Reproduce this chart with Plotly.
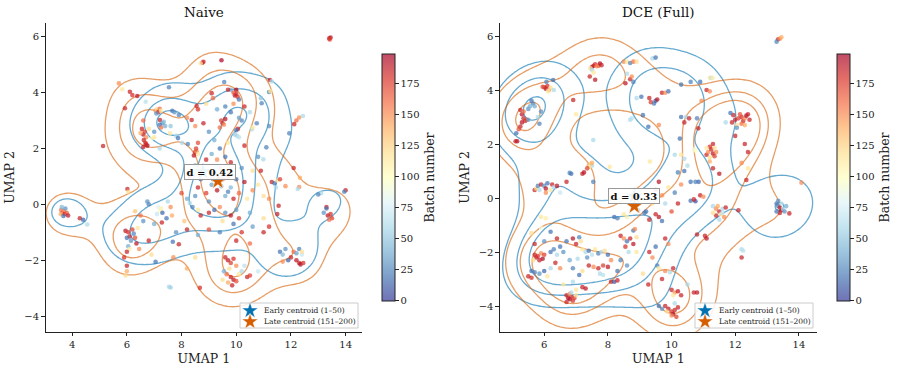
import numpy as np
import plotly.graph_objects as go

FONT = "DejaVu Serif"
W, H = 897, 370

# ---------------- DATA: Naive panel ----------------
naive_x = [
    3.6, 3.65, 3.7, 3.72, 3.58, 3.75, 3.68, 3.8, 3.62, 3.85, 4.28, 4.4, 4.55,
    5.95, 6.05, 6.1, 6.2, 6.0, 6.15, 6.3, 6.25, 6.4, 6.35, 6.05, 6.1, 6.0, 6.45, 6.0, 6.0, 5.95, 5.9, 6.5, 6.3, 6.02, 6.05,
    7.15, 7.2, 7.25, 7.1, 7.3, 7.28, 6.75, 6.8, 7.5, 7.6, 7.65, 7.45, 7.68, 7.9, 7.54, 7.6, 8.67, 7.05, 6.9, 7.7, 8.2, 8.5,
    8.3, 8.4, 8.2, 8.5, 8.6, 8.7, 8.8, 8.9, 9.0, 9.1,
    9.2, 9.3, 9.4, 9.5, 9.6, 9.7, 9.8, 9.9, 10.0, 10.1,
    9.0, 9.2, 9.4, 9.6, 9.8, 10.0, 10.1, 9.9, 9.5, 8.7,
    8.6, 8.9, 9.1, 9.3, 9.6, 9.8, 10.2, 10.3, 10.4, 8.5,
    8.3, 10.5, 10.6, 8.0, 8.1, 9.35, 9.15, 9.45, 9.25, 9.7,
    7.8, 8.2, 8.6, 9.0, 9.4, 10.2, 10.6, 10.0, 10.5, 11.0, 6.6, 7.0, 6.8,
    9.6, 9.7, 9.8, 9.9, 10.0, 9.75, 9.65, 9.8, 9.9, 10.0, 9.7, 9.85, 10.1, 10.2, 10.4, 10.5, 9.5, 9.55, 10.3, 10.8,
    11.6, 11.7, 11.8, 12.0, 12.1, 12.2, 12.3, 12.35, 12.4, 12.3, 12.2, 11.9, 12.45, 11.7, 12.4,
    13.3, 13.35, 13.45, 13.5, 13.4, 13.2, 13.1, 13.0, 14.0, 13.95, 13.3,
    11.3, 11.4, 11.5, 11.45, 11.6, 11.55, 11.5, 11.2, 11.0, 11.8, 12.3, 12.25, 12.1, 12.33, 11.0, 11.2, 10.8, 10.9, 10.8, 10.6,
    10.0, 9.95, 10.05, 9.9, 10.0, 10.1, 9.8, 9.7, 9.9, 9.1,
    9.15, 8.9, 9.5, 9.45, 9.55, 9.6, 9.4, 10.2, 10.1, 10.06,
    10.0, 10.03, 10.1, 9.95, 10.57, 10.6, 10.75, 11.2, 9.2, 9.0,
    8.8, 8.5, 8.6, 8.37, 8.2, 9.3, 9.6, 9.8, 10.3, 10.5,
    10.3, 9.7, 9.4, 8.55, 8.6,
    5.71, 5.83, 6.11, 6.2, 6.38, 5.93, 5.13, 7.54, 6.69, 7.05,
    7.1, 7.15, 7.2, 7.08, 7.25, 7.21, 7.66, 7.74, 7.9, 6.55,
    6.6, 6.65, 6.7, 6.62, 6.68, 6.75, 6.6, 6.7, 6.5, 6.8,
    6.92, 7.0, 7.2, 7.58, 7.8, 7.87, 8.02, 8.23, 8.5, 8.55,
    8.6, 8.45, 8.53, 7.3, 7.4, 7.2, 7.35, 7.25, 6.6, 7.0,
    7.6,
    8.76, 8.8, 8.7, 9.46, 9.56, 11.23, 11.3, 11.2, 11.25, 10.93, 10.9, 12.3, 12.2, 12.12, 11.94, 12.44, 11.1, 10.99, 13.4, 13.45, 13.42,
]
naive_y = [
    -0.2, -0.3, -0.25, -0.35, -0.35, -0.15, -0.42, -0.3, -0.1, -0.4, -0.5, -0.55, -0.72,
    -0.95, -1.0, -1.15, -0.9, -1.2, -1.3, -1.2, -1.05, -0.85, -1.4, -1.5, -1.6, -1.7, -1.6, -2.2, -2.4, -2.55, -1.9, -0.4, -0.25, 0.55, 0.45,
    -0.1, -0.25, -0.15, -0.35, -0.3, -0.65, 0.1, 0.0, 0.1, -0.1, -0.4, -0.5, -1.34, -1.43, -2.95, -2.98, -2.99, -2.06, -1.8, -1.9, -2.3, -1.9,
    0.05, -0.1, 0.2, 0.3, 0.6, 0.9, 1.2, 0.4, 0.1, 0.7,
    1.1, 0.5, 1.3, 0.9, 0.3, 1.0, 0.6, 0.2, 0.9, 0.4,
    -0.3, -0.2, -0.1, -0.3, -0.4, -0.2, -0.5, -0.7, -0.6, -0.4,
    -0.2, 1.6, 1.8, 1.6, 1.7, 1.5, 1.3, 0.8, 0.2, 1.4,
    1.0, -0.3, 0.5, 0.4, -0.6, 0.85, 0.9, 0.65, 1.35, 0.45,
    -1.0, -0.9, -1.1, -0.9, -1.0, -1.0, -0.8, -1.3, -1.4, -0.5, -0.6, -0.7, -1.3,
    -1.9, -2.0, -2.1, -1.95, -2.2, -2.3, -2.5, -2.6, -2.7, -2.75, -2.8, -2.9, -2.5, -2.4, -2.6, -2.55, -2.7, -2.4, -2.2, -2.4,
    -1.7, -1.8, -1.6, -1.9, -1.7, -2.0, -2.1, -2.15, -1.8, -1.6, -1.75, -2.0, -2.1, -2.05, -1.7,
    -0.1, -0.4, -0.35, -0.5, -0.55, -0.3, 0.4, 0.35, 0.5, 0.45, -0.15,
    0.8, 0.75, 0.85, 0.6, 0.9, -0.05, -0.35, -0.8, -1.0, 0.65, 0.62, 0.55, 1.3, 0.95, 0.3, 0.2, 0.7, 1.2, 1.7, 1.2,
    3.95, 3.9, 3.85, 4.0, 4.1, 3.75, 4.1, 4.1, 3.6, 3.98,
    3.8, 3.6, 2.9, 3.0, 2.85, 3.05, 2.75, 3.0, 3.1, 2.7,
    2.65, 2.45, 2.4, 2.5, 2.69, 2.75, 2.9, 2.8, 2.3, 2.6,
    2.9, 2.8, 2.2, 3.02, 3.1, 3.4, 3.5, 3.3, 3.5, 3.3,
    2.1, 2.2, 2.0, 3.52, 3.4,
    4.33, 4.12, 4.03, 3.91, 3.88, 3.44, 2.09, 4.19, 3.67, 3.35,
    3.4, 3.3, 3.42, 3.25, 3.35, 3.02, 3.35, 3.3, 3.2, 2.7,
    2.5, 2.6, 2.4, 2.3, 2.2, 2.1, 2.05, 2.15, 2.55, 2.7,
    2.37, 2.4, 2.0, 2.54, 2.45, 2.37, 2.2, 2.16, 1.87, 1.9,
    1.8, 1.75, 2.0, 2.9, 2.8, 2.85, 2.95, 2.75, 3.0, 2.6,
    2.8,
    5.07, 5.1, 5.05, 5.16, 4.38, 4.45, 4.4, 4.02, 4.05, 3.62, 3.8, 3.11, 3.0, 2.87, 2.54, 3.16, 2.04, 1.61, 5.94, 5.97, 5.9,
]
naive_batch = [
    160, 175, 150, 185, 140, 30, 20, 165, 45, 190, 185, 15, 60,
    190, 180, 185, 175, 20, 30, 170, 25, 115, 190, 40, 110, 185, 150, 185, 140, 120, 180, 160, 130, 185, 120,
    80, 95, 110, 70, 15, 185, 30, 25, 60, 150, 140, 20, 20, 185, 60, 55, 180, 20, 120, 150, 140, 120,
    60, 25, 40, 30, 185, 20, 65, 175, 30, 35,
    15, 190, 25, 180, 40, 170, 45, 185, 20, 160,
    185, 20, 150, 30, 190, 35, 175, 20, 120, 185,
    115, 185, 40, 150, 20, 185, 30, 190, 115, 50,
    185, 40, 150, 170, 130, 165, 20, 45, 60, 25,
    30, 185, 40, 170, 25, 180, 35, 185, 160, 120, 30, 40, 185,
    185, 190, 175, 180, 150, 120, 160, 185, 190, 170, 140, 185, 115, 60, 185, 175, 120, 40, 65, 70,
    20, 45, 30, 185, 160, 190, 185, 195, 70, 25, 35, 15, 180, 150, 120,
    185, 190, 180, 175, 160, 30, 60, 25, 185, 25, 20,
    185, 20, 115, 60, 175, 185, 185, 180, 185, 150, 150, 60, 185, 140, 120, 150, 115, 185, 30, 120,
    185, 190, 180, 170, 195, 20, 40, 185, 150, 185,
    160, 120, 185, 175, 150, 190, 160, 25, 35, 185,
    20, 60, 65, 55, 60, 115, 25, 30, 40, 30,
    185, 150, 170, 185, 150, 40, 25, 20, 185, 60,
    185, 115, 20, 185, 180,
    150, 115, 185, 180, 190, 185, 185, 25, 65, 150,
    120, 185, 160, 30, 110, 185, 20, 30, 25, 185,
    190, 175, 150, 185, 180, 195, 190, 185, 140, 120,
    100, 115, 60, 115, 60, 20, 60, 25, 185, 150,
    115, 190, 175, 30, 40, 20, 45, 160, 160, 30,
    50,
    190, 185, 115, 195, 25, 185, 60, 25, 115, 25, 50, 150, 160, 185, 25, 60, 25, 60, 185, 190, 175,
]

# ---------------- DATA: DCE (Full) panel ----------------
dce_x = [
    7.5, 7.55, 7.6, 7.7, 7.75, 7.8, 7.65, 7.45, 7.5, 7.43, 7.6, 7.55,
    6.0, 6.05, 6.1, 6.15, 6.2, 5.95, 6.07, 6.28, 6.3, 6.12,
    5.6, 5.65, 5.5, 5.55, 5.25, 5.3, 5.35, 5.4, 5.45, 5.3, 5.35, 5.25, 5.2, 5.12, 5.1, 5.15, 5.8, 5.85, 5.7, 5.9, 5.5,
    6.91, 7.0, 7.54, 7.4, 7.45, 7.5, 7.42, 7.5, 7.35, 7.2, 7.25, 6.8, 6.85, 6.7, 7.54, 8.06,
    5.7, 5.75, 5.8, 5.85, 5.9, 6.0, 6.05, 6.1, 6.2, 6.25, 6.3, 6.4, 6.05, 6.5,
    8.5, 8.6, 8.7, 8.8, 8.9, 9.4, 9.5, 8.7, 8.75, 8.8, 8.6, 8.55,
    8.9, 9.05, 9.3, 9.35, 9.45, 9.5, 9.55, 9.7, 9.8, 9.9, 9.1, 8.7, 8.75, 9.27, 9.6,
    10.3, 10.6, 10.9, 11.2, 11.25, 11.3, 11.1, 11.2, 10.94, 10.3, 10.45, 10.55, 10.8, 10.84, 10.4, 10.26,
    10.1, 10.3, 10.4, 9.32, 10.7, 10.75, 11.1, 11.15, 11.2, 11.25, 11.3, 11.35, 11.4, 11.2, 11.3, 11.35, 11.1, 11.2, 11.3, 11.5,
    11.9, 12.0, 12.1, 12.2, 12.25, 12.3, 12.35, 12.4, 12.2, 12.15, 11.94, 12.05, 12.3, 12.45, 12.0, 12.3, 12.4, 12.2, 12.4, 12.35, 11.85, 11.7, 12.05,
    10.4, 10.5, 10.2, 10.6, 10.75, 10.85, 10.9, 11.0, 14.08,
    13.3, 13.35, 13.4, 13.45, 13.5, 13.55, 13.4, 13.3, 13.6, 13.45, 13.7, 13.35,
    10.6, 10.75, 10.7, 11.3, 11.4, 11.5, 11.55, 11.6, 11.65, 11.4, 11.5, 11.6, 11.7, 11.3, 11.45,
    12.1, 11.05, 11.1, 10.8, 12.2, 12.25, 12.2, 9.8, 9.9, 9.5, 9.6, 9.2, 9.7, 9.3,
    9.5, 9.7, 9.9, 10.1, 10.2, 9.8, 9.4, 10.0, 9.6, 10.3,
    5.7, 5.75, 5.8, 5.85, 5.9, 5.95, 6.0, 5.65, 5.6, 5.7, 5.85, 6.0, 5.5, 5.6, 6.2, 6.3, 6.4, 6.5, 6.6, 6.35, 6.5, 6.2, 6.1,
    6.7, 6.75, 6.8, 6.85, 6.9, 6.95, 6.8, 7.0, 6.7, 6.85, 7.0, 7.2, 7.3, 6.6, 6.9,
    7.2, 7.3, 7.4, 7.5, 7.6, 7.7, 7.8, 7.9, 8.0, 7.35, 7.05,
    7.4, 7.55, 7.7, 7.85, 8.0, 7.75, 7.85, 8.1, 8.2, 8.3, 7.2, 7.1, 6.9, 6.8, 7.0, 6.7, 6.9,
    8.4, 8.5, 8.6, 8.7, 8.8, 8.9, 8.55, 8.65, 8.9, 8.8, 8.85, 8.2, 8.3, 8.5, 8.6, 8.95, 9.15, 8.4, 8.6, 8.3, 8.1,
    5.9, 6.05, 5.9, 6.2, 7.1, 7.15, 6.4, 6.0, 5.7, 5.6,
    9.3, 9.5, 9.4, 9.55, 9.6, 9.8, 9.95, 10.05, 9.7, 9.27, 9.1,
    10.0, 10.1, 10.2, 10.3, 10.05, 10.7, 10.8, 10.5,
    9.8, 9.9, 10.0, 10.05, 10.1, 10.15, 10.0, 10.2, 9.85, 9.7, 9.6, 10.1,
    13.35, 13.4, 13.45, 13.3,
]
dce_y = [
    4.85, 4.9, 4.95, 4.9, 4.98, 4.92, 4.88, 4.8, 4.75, 4.5, 4.38, 4.65,
    4.1, 4.05, 4.15, 4.0, 4.08, 4.12, 4.3, 4.37, 4.0, 3.95,
    3.6, 3.5, 3.3, 3.4, 3.26, 3.1, 2.95, 2.85, 2.9, 2.8, 3.2, 2.65, 2.55, 2.4, 2.1, 2.1, 3.0, 2.75, 3.4, 3.2, 2.9,
    3.63, 3.1, 2.15, 1.2, 1.25, 1.2, 1.15, 1.3, 1.1, 0.9, 0.95, 0.93, 0.9, 0.6, 0.6, 1.16,
    0.3, 0.35, 0.45, 0.3, 0.5, 0.45, 0.35, 0.55, 0.3, 0.5, 0.4, 0.45, 0.2, 0.2,
    5.05, 5.05, 5.0, 5.05, 5.05, 5.17, 5.2, 4.4, 4.5, 4.3, 4.6, 4.25,
    3.7, 3.75, 3.7, 3.55, 3.5, 3.6, 3.65, 3.9, 3.9, 3.95, 3.07, 2.9, 2.95, 2.64, 2.7,
    4.2, 4.3, 4.3, 4.45, 4.45, 4.45, 4.0, 3.95, 3.6, 3.0, 3.0, 2.95, 2.95, 2.58, 2.8, 2.2,
    1.6, 1.6, 1.45, 1.35, 1.8, 1.75, 1.6, 1.7, 1.5, 1.8, 1.65, 1.55, 1.7, 1.9, 2.0, 1.85, 1.85, 1.35, 1.1, 0.9,
    2.8, 2.9, 2.95, 3.0, 2.85, 2.95, 3.05, 3.1, 2.75, 3.1, 3.07, 2.7, 2.7, 2.9, 2.3, 2.0, 1.7, 1.3, 1.1, 0.67, 3.15, 2.8, 2.6,
    1.0, 1.2, 0.95, 0.6, 0.6, 0.6, 0.1, 0.05, 0.57,
    -0.2, -0.3, -0.35, -0.45, -0.4, -0.5, -0.55, -0.5, -0.3, -0.2, -0.57, -0.1,
    -0.1, -0.12, -0.05, -0.3, -0.4, -0.5, -0.6, -0.4, -0.7, -0.65, -0.8, -0.55, -0.35, -0.55, -0.3,
    -0.45, -1.4, -1.5, -1.35, -1.9, -1.95, -2.2, -1.5, -1.7, -0.6, -0.7, -0.5, -0.85, -0.8,
    0.3, 0.1, 0.4, 0.2, -0.2, -0.2, -0.2, -0.5, 0.6, 0.5,
    -2.1, -2.2, -2.15, -2.3, -2.05, -2.25, -2.1, -2.3, -2.7, -2.75, -2.8, -2.7, -2.9, -2.95, -2.0, -1.9, -2.1, -1.8, -2.0, -2.4, -2.6, -2.6, -2.9,
    -3.6, -3.7, -3.75, -3.65, -3.8, -3.7, -3.55, -3.6, -3.85, -3.5, -3.4, -3.3, -3.35, -3.2, -3.1,
    -1.9, -2.0, -1.95, -2.1, -1.9, -2.05, -2.0, -1.95, -2.1, -2.2, -2.25,
    -2.5, -2.55, -2.6, -2.5, -2.55, -2.8, -2.85, -3.1, -3.1, -3.05, -2.7, -2.85, -2.6, -2.3, -1.7, -1.6, -1.5,
    -1.4, -1.5, -1.6, -1.5, -1.7, -1.45, -1.8, -2.0, -2.0, -1.2, -1.15, -0.7, -0.75, -0.6, -0.7, -0.45, -0.55, -2.3, -2.5, -2.7, -2.3,
    -0.7, -0.75, -1.1, -1.25, -1.45, -1.6, -1.5, -1.6, -1.7, -1.3,
    -2.0, -1.8, -2.2, -2.5, -2.6, -2.7, -2.75, -2.6, -3.0, -3.2, -2.8,
    -3.4, -3.5, -3.45, -3.6, -3.6, -3.5, -3.5, -3.2,
    -4.0, -4.1, -4.2, -4.3, -4.15, -4.4, -4.35, -4.05, -4.2, -4.1, -4.0, -3.9,
    5.88, 5.9, 5.95, 5.79,
]
dce_batch = [
    185, 190, 180, 175, 195, 185, 150, 120, 60, 185, 190, 115,
    185, 190, 180, 150, 120, 170, 25, 20, 60, 115,
    20, 25, 30, 40, 185, 190, 185, 180, 175, 190, 160, 185, 170, 20, 185, 190, 60, 25, 40, 30, 35,
    185, 115, 60, 150, 120, 60, 115, 140, 175, 185, 190, 25, 20, 185, 25, 115,
    185, 120, 25, 60, 185, 30, 190, 20, 115, 185, 60, 190, 150, 70,
    150, 115, 25, 160, 120, 60, 20, 185, 150, 25, 60, 190,
    60, 20, 185, 175, 20, 10, 190, 185, 150, 20, 20, 60, 65, 20, 150,
    20, 25, 20, 115, 65, 110, 185, 150, 150, 20, 60, 185, 25, 185, 185, 20,
    60, 115, 60, 115, 90, 100, 185, 150, 120, 185, 190, 175, 150, 180, 185, 120, 115, 140, 185, 190,
    185, 190, 175, 180, 185, 150, 195, 185, 160, 170, 185, 120, 140, 185, 185, 185, 185, 150, 115, 185, 20, 60, 30,
    20, 60, 25, 20, 25, 15, 185, 150, 150,
    20, 25, 185, 190, 60, 30, 185, 20, 40, 65, 185, 30,
    20, 10, 185, 60, 150, 185, 115, 60, 150, 185, 60, 70, 185, 120, 140,
    185, 185, 190, 185, 60, 65, 185, 185, 150, 185, 190, 20, 20, 185,
    185, 150, 115, 25, 185, 60, 120, 170, 190, 150,
    185, 190, 180, 185, 150, 195, 175, 120, 20, 25, 30, 15, 185, 180, 20, 25, 60, 20, 30, 185, 150, 60, 115,
    185, 190, 195, 185, 180, 175, 150, 120, 185, 60, 115, 185, 190, 115, 60,
    115, 60, 20, 65, 115, 25, 60, 120, 20, 30, 60,
    185, 150, 185, 175, 190, 60, 65, 185, 10, 185, 120, 20, 25, 40, 185, 20, 190,
    185, 150, 20, 185, 190, 120, 180, 60, 115, 20, 150, 20, 25, 115, 110, 60, 20, 25, 30, 20, 150,
    115, 110, 90, 20, 25, 120, 185, 30, 185, 120,
    185, 20, 150, 25, 115, 150, 60, 185, 185, 185, 120,
    185, 150, 190, 185, 115, 185, 190, 60,
    185, 190, 180, 195, 185, 175, 150, 185, 120, 30, 20, 60,
    185, 150, 140, 25,
]

# centroids (early = batches 1-50, late = 151-200) and their distance labels
naive_early_centroid = (8.78, 1.16)
naive_late_centroid = (9.33, 0.83)
dce_early_centroid = (8.83, 0.07)
dce_late_centroid = (8.83, -0.30)
naive_d = "d = 0.42"
dce_d = "d = 0.33"

panel_titles = ["Naive", "DCE (Full)"]
legend_labels = ["Early centroid (1–50)", "Late centroid (151–200)"]
cbar_ticks = [0, 25, 50, 75, 100, 125, 150, 175]
batch_max = 199
early_batches = (1, 50)
late_batches = (151, 200)

# ---------------- styling ----------------
EARLY_C = "#0072B2"
LATE_C = "#D55E00"
EARLY_LINE = "rgba(0,114,178,0.6)"
LATE_LINE = "rgba(213,94,0,0.6)"

RDYLBU = [(165, 0, 38), (215, 48, 39), (244, 109, 67), (253, 174, 97), (254, 224, 144),
          (255, 255, 191), (224, 243, 248), (171, 217, 233), (116, 173, 209),
          (69, 117, 180), (49, 54, 149)]
rev = RDYLBU[::-1]
scale_full = [[i / 10, "rgb(%d,%d,%d)" % c] for i, c in enumerate(rev)]
A = 0.7
scale_alpha = [[i / 10, "rgb(%d,%d,%d)" % tuple(round(v * A + 255 * (1 - A)) for v in c)]
               for i, c in enumerate(rev)]


def kde(xs, ys, gx, gy, bw_adjust):
    data = np.vstack([xs, ys])
    n = data.shape[1]
    factor = n ** (-1.0 / 6.0) * bw_adjust
    cov = np.cov(data) * factor ** 2
    inv = np.linalg.inv(cov)
    X, Y = np.meshgrid(gx, gy)
    dx = X[..., None] - xs[None, None, :]
    dy = Y[..., None] - ys[None, None, :]
    q = inv[0, 0] * dx * dx + 2 * inv[0, 1] * dx * dy + inv[1, 1] * dy * dy
    return np.exp(-0.5 * q).sum(-1)


def iso_levels(z, props):
    vals = np.sort(z.ravel())[::-1]
    cum = np.cumsum(vals) / vals.sum()
    idx = np.searchsorted(cum, 1 - np.asarray(props))
    return np.take(vals, idx, mode="clip")


fig = go.Figure()

panels = [
    dict(x=naive_x, y=naive_y, b=naive_batch, ec=naive_early_centroid, lc=naive_late_centroid,
         d=naive_d, xa="x", ya="y", xr=[3.03, 14.6], yr=[-4.56, 6.48], dom=[0.0509, 0.4036],
         cbx=381.7 / W, leg=(240, 303, 358, 328), xticks=[4, 6, 8, 10, 12, 14]),
    dict(x=dce_x, y=dce_y, b=dce_batch, ec=dce_early_centroid, lc=dce_late_centroid,
         d=dce_d, xa="x2", ya="y2", xr=[4.61, 14.56], yr=[-4.95, 6.47], dom=[0.5574, 0.9105],
         cbx=836.7 / W, leg=(695, 303, 813, 328), xticks=[6, 8, 10, 12, 14]),
]

YDOM = [0.1035, 0.937]
annotations = []
BW = 0.8
PROPS = [0.2, 0.5, 0.8]

for k, p in enumerate(panels):
    xs = np.array(p["x"], float)
    ys = np.array(p["y"], float)
    bs = np.array(p["b"], float)
    fig.add_trace(go.Scatter(
        x=xs, y=ys, mode="markers", xaxis=p["xa"], yaxis=p["ya"], showlegend=False,
        hoverinfo="skip",
        marker=dict(size=4.6, color=bs, colorscale=scale_full, cmin=0, cmax=batch_max,
                    opacity=0.72, line=dict(width=0))))
    gx = np.linspace(p["xr"][0] - 2, p["xr"][1] + 2, 170)
    gy = np.linspace(p["yr"][0] - 2, p["yr"][1] + 2, 170)
    for (lo, hi), col in [(early_batches, EARLY_LINE), (late_batches, LATE_LINE)]:
        m = (bs >= lo) & (bs <= hi)
        z = kde(xs[m], ys[m], gx, gy, BW)
        for lv in iso_levels(z, PROPS):
            fig.add_trace(go.Contour(
                x=gx, y=gy, z=z, xaxis=p["xa"], yaxis=p["ya"], showscale=False,
                autocontour=False, contours=dict(start=lv, end=lv, size=max(lv, 1e-9), coloring="none"),
                line=dict(color=col, width=1.3), hoverinfo="skip", showlegend=False))
    # colorbar carrier
    fig.add_trace(go.Scatter(
        x=[p["lc"][0]], y=[p["lc"][1]], mode="markers", xaxis=p["xa"], yaxis=p["ya"],
        showlegend=False, hoverinfo="skip",
        marker=dict(size=1, opacity=0, color=[0], colorscale=scale_alpha, cmin=0, cmax=batch_max,
                    showscale=True,
                    colorbar=dict(x=p["cbx"], xanchor="left", y=0.1865, yanchor="bottom",
                                  len=246.7 / H, lenmode="fraction", thickness=12.6,
                                  thicknessmode="pixels", xpad=0, ypad=0,
                                  outlinewidth=1, outlinecolor="#222",
                                  tickvals=cbar_ticks, ticks="outside", ticklen=3.5,
                                  tickcolor="#222", tickfont=dict(family=FONT, size=10, color="#222"),
                                  title=dict(text="Batch number", side="right",
                                             font=dict(family=FONT, size=12.5, color="#222"))))))
    # centroids
    for c, col in [(p["ec"], EARLY_C), (p["lc"], LATE_C)]:
        fig.add_trace(go.Scatter(
            x=[c[0]], y=[c[1]], mode="markers", xaxis=p["xa"], yaxis=p["ya"], showlegend=False,
            hoverinfo="skip",
            marker=dict(symbol="star", size=13, color=col, line=dict(color="white", width=0.5))))
    mx = (p["ec"][0] + p["lc"][0]) / 2
    my = (p["ec"][1] + p["lc"][1]) / 2
    annotations.append(dict(
        x=mx, y=my, xref=p["xa"], yref=p["ya"], text="<b>%s</b>" % p["d"], showarrow=False,
        yshift=5, font=dict(family=FONT, size=10, color="#111"),
        bgcolor="rgba(255,255,255,0.92)", bordercolor="#999", borderwidth=1, borderpad=1.5))
    # panel title
    annotations.append(dict(
        x=(p["dom"][0] + p["dom"][1]) / 2, y=(H - 12) / H, xref="paper", yref="paper",
        text=panel_titles[k], showarrow=False, xanchor="center", yanchor="middle",
        font=dict(family=FONT, size=13.5, color="#111")))
    # legend: box + star glyph markers (overlay pixel axis) + labels
    x0, y0, x1, y1 = p["leg"]
    fig.add_trace(go.Scatter(
        x=[x0, x1, x1, x0, x0], y=[y0, y0, y1, y1, y0], mode="lines", fill="toself",
        fillcolor="rgba(255,255,255,0.85)", line=dict(color="#cccccc", width=1),
        xaxis="x3", yaxis="y3", showlegend=False, hoverinfo="skip"))
    rows = [y0 + 7.7, y0 + 18.7]
    for r, (lab, col) in enumerate(zip(legend_labels, [EARLY_C, LATE_C])):
        fig.add_trace(go.Scatter(
            x=[x0 + 10], y=[rows[r]], mode="markers", xaxis="x3", yaxis="y3",
            showlegend=False, hoverinfo="skip",
            marker=dict(symbol="star", size=12, color=col, line=dict(color="white", width=0.4))))
        annotations.append(dict(
            x=(x0 + 22) / W, y=(H - rows[r]) / H, xref="paper", yref="paper",
            xanchor="left", yanchor="middle", showarrow=False, text=lab,
            font=dict(family=FONT, size=7.5, color="#222")))

axis_common = dict(showline=True, linecolor="#222", linewidth=1.1, ticks="outside", ticklen=3.5,
                   tickwidth=1, tickcolor="#222", showgrid=False, zeroline=False, mirror=False,
                   tickfont=dict(family=FONT, size=10, color="#222"), fixedrange=True)

fig.update_layout(
    width=W, height=H, margin=dict(l=0, r=0, t=0, b=0),
    paper_bgcolor="white", plot_bgcolor="rgba(0,0,0,0)", showlegend=False,
    font=dict(family=FONT, color="#222"),
    xaxis=dict(domain=panels[0]["dom"], range=panels[0]["xr"], anchor="y",
               tickvals=panels[0]["xticks"],
               title=dict(text="UMAP 1", font=dict(family=FONT, size=12.5), standoff=4), **axis_common),
    yaxis=dict(domain=YDOM, range=panels[0]["yr"], anchor="x", tickvals=[-4, -2, 0, 2, 4, 6],
               title=dict(text="UMAP 2", font=dict(family=FONT, size=12.5), standoff=6), **axis_common),
    xaxis2=dict(domain=panels[1]["dom"], range=panels[1]["xr"], anchor="y2",
                tickvals=panels[1]["xticks"],
                title=dict(text="UMAP 1", font=dict(family=FONT, size=12.5), standoff=4), **axis_common),
    yaxis2=dict(domain=YDOM, range=panels[1]["yr"], anchor="x2", tickvals=[-4, -2, 0, 2, 4, 6],
                title=dict(text="UMAP 2", font=dict(family=FONT, size=12.5), standoff=6), **axis_common),
    xaxis3=dict(domain=[0, 1], range=[0, W], anchor="y3", visible=False, fixedrange=True),
    yaxis3=dict(domain=[0, 1], range=[H, 0], anchor="x3", visible=False, fixedrange=True),
    annotations=annotations,
    hovermode=False,
)

fig.write_html("out.html")
